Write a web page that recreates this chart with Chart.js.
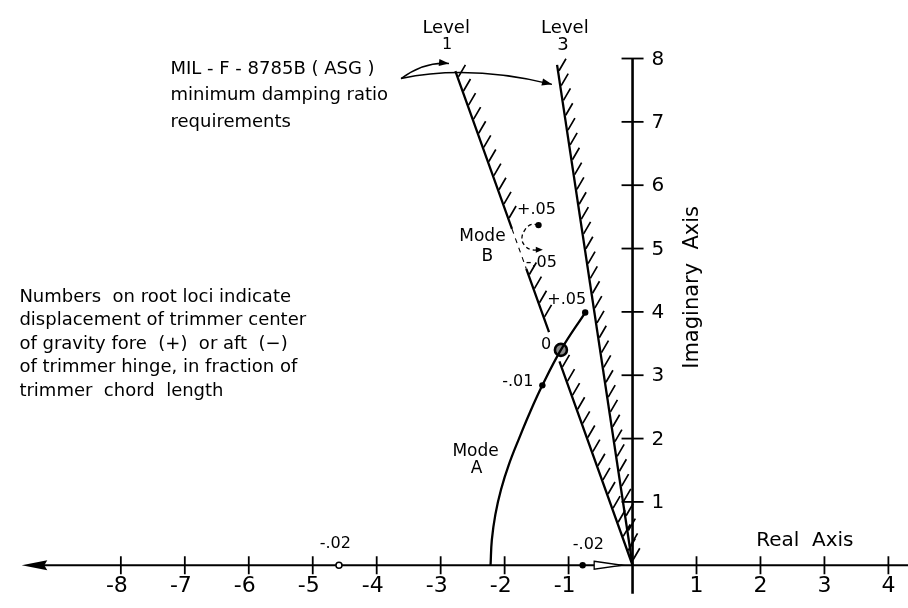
<!DOCTYPE html>
<html><head><meta charset="utf-8">
<script src="https://cdn.jsdelivr.net/npm/chart.js@4/dist/chart.umd.min.js"></script>
<style>html,body{margin:0;padding:0;background:#fff}canvas{display:block}</style>
</head><body>
<canvas id="c" width="908" height="608"></canvas>
<script>
// ---- data ----
const realTicks = [-8,-7,-6,-5,-4,-3,-2,-1,1,2,3,4];
const imagTicks = [1,2,3,4,5,6,7,8];
// Mode A root locus
const modeARe = [-2.22,-2.20,-2.145,-2.055,-1.93,-1.775,-1.61,-1.41,-1.12,-0.74];
const modeAIm = [0,0.40,0.80,1.20,1.60,2.00,2.40,2.84,3.40,3.99];
// Mode B root locus (dashed)
const modeBRe = [-1.47,-1.58,-1.68,-1.73,-1.67,-1.57,-1.45];
const modeBIm = [5.37,5.38,5.30,5.15,5.03,4.98,4.98];
// MIL-F-8785B minimum damping boundaries
const level1Re = [-2.77,-1.885,null,-1.661,-1.306,null,-1.143,0];
const level1Im = [7.8,5.31,null,4.68,3.68,null,3.22,0];
const level1GapRe = [-1.885,-1.661];
const level1GapIm = [5.31,4.68];
const level3Re = [-1.18,0];
const level3Im = [7.9,0];
// marked roots
const dotRe = [-1.41,-0.74,-1.47,-0.78];
const dotIm = [2.84,3.99,5.37,0];
const openRe = [-4.59];
const openIm = [0];
const zeroRe = [-1.12];
const zeroIm = [3.40];

const toXY = (xs, ys) => xs.map((x, i) => ({x: x, y: ys[i]}));
const INK = '#000';
const FONT = '"DejaVu Sans", sans-serif';

function arrowHead(ctx, x, y, ang, len, wid) {
  ctx.beginPath();
  ctx.moveTo(x, y);
  ctx.lineTo(x - len*Math.cos(ang) + wid*Math.sin(ang), y - len*Math.sin(ang) - wid*Math.cos(ang));
  ctx.lineTo(x - len*Math.cos(ang) - wid*Math.sin(ang), y - len*Math.sin(ang) + wid*Math.cos(ang));
  ctx.closePath();
  ctx.fill();
}

const rootPlot = {
  id: 'rootPlot',
  beforeDatasetsDraw(chart) {
    const ctx = chart.ctx, xs = chart.scales.x, ys = chart.scales.y;
    const P = (x, y) => [xs.getPixelForValue(x), ys.getPixelForValue(y)];
    const [ox, oy] = P(0, 0);
    ctx.save();
    ctx.strokeStyle = INK; ctx.fillStyle = INK; ctx.lineCap = 'butt';
    // real axis
    ctx.lineWidth = 2.2;
    ctx.beginPath(); ctx.moveTo(P(-9.4,0)[0], oy); ctx.lineTo(chart.width, oy); ctx.stroke();
    // left arrowhead
    const tip = P(-9.55, 0)[0], base = P(-9.15, 0)[0];
    ctx.beginPath(); ctx.moveTo(tip, oy); ctx.lineTo(base, oy - 5); ctx.lineTo(base - 3, oy); ctx.lineTo(base, oy + 5); ctx.closePath(); ctx.fill();
    // imaginary axis
    ctx.lineWidth = 2.6;
    ctx.beginPath(); ctx.moveTo(ox, P(0,-0.45)[1]); ctx.lineTo(ox, P(0,8)[1]); ctx.stroke();
    // ticks
    ctx.lineWidth = 1.8;
    ctx.font = '22px ' + FONT; ctx.textBaseline = 'top';
    realTicks.forEach(t => {
      const px = P(t, 0)[0];
      ctx.beginPath(); ctx.moveTo(px, oy - 9); ctx.lineTo(px, oy + 9); ctx.stroke();
      const s = String(t), num = s.replace('-', '');
      const w = ctx.measureText(num).width;
      ctx.textAlign = 'right';
      ctx.fillText(s, px + w/2, oy + 10);
    });
    ctx.font = '20px ' + FONT; ctx.textBaseline = 'middle'; ctx.textAlign = 'left';
    imagTicks.forEach(t => {
      const py = P(0, t)[1];
      ctx.beginPath(); ctx.moveTo(ox - 11, py); ctx.lineTo(ox + 11, py); ctx.stroke();
      ctx.fillText(String(t), ox + 19, py + 1);
    });
    // hatching on the damping boundaries
    ctx.lineWidth = 1.7;
    ctx.beginPath();
    [0, 1].forEach(di => {
      const pts = chart.getDatasetMeta(di).data;
      const raw = chart.data.datasets[di].data;
      for (let i = 0; i < pts.length - 1; i++) {
        if (raw[i].x === null || raw[i+1].x === null) continue;
        const ax = pts[i].x, ay = pts[i].y, bx = pts[i+1].x, by = pts[i+1].y;
        const L = Math.hypot(bx - ax, by - ay), sp = 15;
        for (let d = 6; d < L - 2; d += sp) {
          const px = ax + (bx - ax) * d / L, py = ay + (by - ay) * d / L;
          ctx.moveTo(px + 1, py); ctx.lineTo(px + 8, py - 12);
        }
      }
    });
    ctx.stroke();
    ctx.restore();
  },
  afterDatasetsDraw(chart) {
    const ctx = chart.ctx, xs = chart.scales.x, ys = chart.scales.y;
    const P = (x, y) => [xs.getPixelForValue(x), ys.getPixelForValue(y)];
    ctx.save();
    ctx.fillStyle = INK; ctx.strokeStyle = INK;
    const text = (s, x, y, size, align) => {
      const [px, py] = P(x, y);
      ctx.font = size + 'px ' + FONT; ctx.textAlign = align || 'center'; ctx.textBaseline = 'middle';
      ctx.fillText(s, px, py);
    };
    const block = (lines, x, y, size, lh) => {
      const [px, py] = P(x, y);
      ctx.font = size + 'px ' + FONT; ctx.textAlign = 'left'; ctx.textBaseline = 'middle';
      lines.forEach((s, i) => ctx.fillText(s, px, py + i * lh));
    };
    block(['MIL - F - 8785B ( ASG )', 'minimum damping ratio', 'requirements'], -7.224, 7.837, 18, 26.5);
    block(['Numbers  on root loci indicate', 'displacement of trimmer center',
           'of gravity fore  (+)  or aft  (\u2212)', 'of trimmer hinge, in fraction of',
           'trimmer  chord  length'], -9.586, 4.233, 18, 23.5);
    text('Level', -2.914, 8.48, 18); text('1', -2.899, 8.22, 16);
    text('Level', -1.058, 8.48, 18); text('3', -1.089, 8.205, 18);
    text('Mode', -2.347, 5.184, 17); text('B', -2.27, 4.877, 17);
    text('Mode', -2.454, 1.794, 17); text('A', -2.439, 1.534, 17);
    text('+.05', -1.503, 5.613, 16); text('-.05', -1.426, 4.770, 16);
    text('+.05', -1.028, 4.187, 16); text('0', -1.350, 3.482, 16);
    text('-.01', -1.794, 2.899, 16);
    text('-.02', -4.647, 0.337, 16); text('-.02', -0.690, 0.322, 16);
    text('Real  Axis', 1.933, 0.383, 20, 'left');
    // Imaginary axis title
    const [ix, iy] = P(0.936, 4.387);
    ctx.save(); ctx.translate(ix, iy); ctx.rotate(-Math.PI/2);
    ctx.font = '21px ' + FONT; ctx.textAlign = 'center'; ctx.textBaseline = 'middle';
    ctx.fillText('Imaginary  Axis', 0, 0); ctx.restore();
    // arrows from the MIL label to the two boundaries
    ctx.lineWidth = 1.5;
    const curve = (s, c, e) => {
      const [sx, sy] = P(s[0], s[1]), [cx, cy] = P(c[0], c[1]), [ex, ey] = P(e[0], e[1]);
      ctx.beginPath(); ctx.moveTo(sx, sy); ctx.quadraticCurveTo(cx, cy, ex, ey); ctx.stroke();
      arrowHead(ctx, ex, ey, Math.atan2(ey - cy, ex - cx), 10, 3.5);
    };
    curve([-3.62, 7.684], [-3.236, 7.96], [-2.87, 7.92]);
    curve([-3.62, 7.684], [-2.546, 7.91], [-1.26, 7.592]);
    // Mode B arrowhead
    const [bx, by] = P(modeBRe[modeBRe.length-1], modeBIm[modeBIm.length-1]);
    arrowHead(ctx, bx + 3, by, 0, 7, 3);
    // hollow arrow on the real axis (-.02 root moving to origin)
    const [a1x, a1y] = P(-0.6, 0), [a2x] = P(-0.16, 0);
    ctx.lineWidth = 1.3;
    ctx.beginPath(); ctx.moveTo(a1x, a1y - 4); ctx.lineTo(a2x, a1y); ctx.lineTo(a1x, a1y + 4); ctx.closePath();
    ctx.fillStyle = '#fff'; ctx.fill(); ctx.stroke();
    ctx.restore();
  }
};

new Chart(document.getElementById('c'), {
  type: 'scatter',
  data: {
    datasets: [
      {label: 'Level 1', data: toXY(level1Re, level1Im), showLine: true, spanGaps: false,
       borderColor: INK, borderWidth: 2.3, pointRadius: 0},
      {label: 'Level 3', data: toXY(level3Re, level3Im), showLine: true,
       borderColor: INK, borderWidth: 2.3, pointRadius: 0},
      {label: 'Mode A', data: toXY(modeARe, modeAIm), showLine: true, tension: 0.4,
       borderColor: INK, borderWidth: 2.3, pointRadius: 0},
      {label: 'Mode B', data: toXY(modeBRe, modeBIm), showLine: true, tension: 0.4,
       borderColor: INK, borderWidth: 1.3, borderDash: [4, 3], pointRadius: 0},
      {label: 'roots', data: toXY(dotRe, dotIm), showLine: false,
       pointRadius: 3.2, pointBackgroundColor: INK, pointBorderColor: INK, pointBorderWidth: 0},
      {label: 'open', data: toXY(openRe, openIm), showLine: false,
       pointRadius: 3, pointBackgroundColor: '#fff', pointBorderColor: INK, pointBorderWidth: 1.5},
      {label: 'zero', data: toXY(zeroRe, zeroIm), showLine: false,
       pointRadius: 6, pointBackgroundColor: '#888', pointBorderColor: INK, pointBorderWidth: 2.6},
      {label: 'Level 1 gap', data: toXY(level1GapRe, level1GapIm), showLine: true,
       borderColor: INK, borderWidth: 1.1, borderDash: [5, 5], pointRadius: 0}
    ]
  },
  options: {
    responsive: false,
    animation: false,
    layout: {padding: 0},
    scales: {
      x: {type: 'linear', min: -9.755, max: 4.172, display: false},
      y: {type: 'linear', min: -0.539, max: 8.788, display: false}
    },
    plugins: {legend: {display: false}, tooltip: {enabled: false}}
  },
  plugins: [rootPlot]
});
</script>
</body></html>
